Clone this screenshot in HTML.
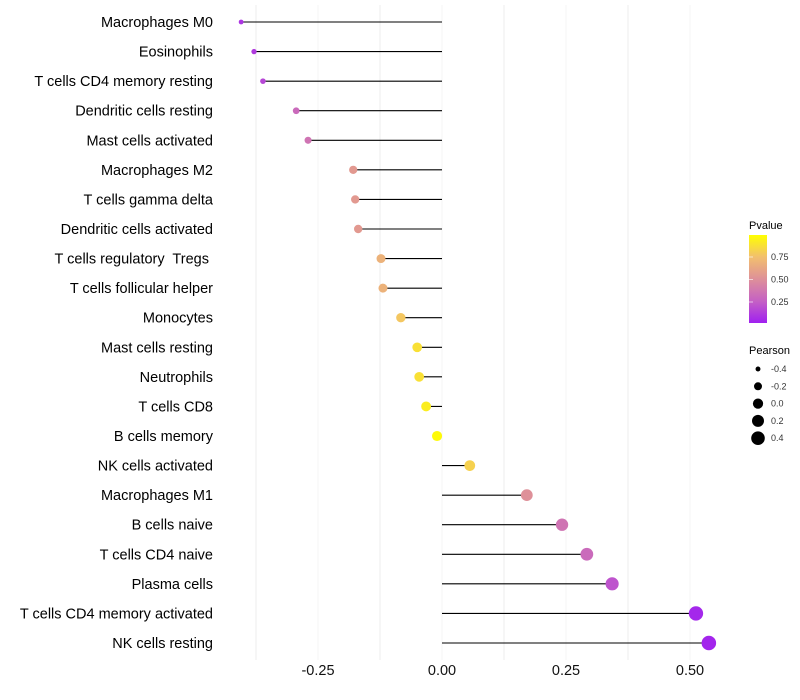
<!DOCTYPE html>
<html><head><meta charset="utf-8"><style>
body{margin:0;background:#fff;font-family:"Liberation Sans",sans-serif}
svg{display:block}
text{white-space:pre}
</style></head><body>
<svg id="c" width="800" height="700">
<defs><linearGradient id="pg" x1="0" y1="1" x2="0" y2="0">
<stop offset="0" stop-color="#a020f0"/><stop offset="0.25" stop-color="#c561c4"/><stop offset="0.5" stop-color="#de9099"/><stop offset="0.75" stop-color="#f2bf6e"/><stop offset="1" stop-color="#ffff00"/></linearGradient></defs>
<g id="grid"></g><g id="marks"></g><g id="labels"></g>
<g id="legend">
<text x="749" y="229" font-size="11">Pvalue</text>
<rect x="749" y="235" width="18" height="88" fill="url(#pg)"/>
<text x="749" y="354" font-size="11">Pearson</text>
</g>
</svg>
<script>
const categories=["Macrophages M0","Eosinophils","T cells CD4 memory resting","Dendritic cells resting","Mast cells activated","Macrophages M2","T cells gamma delta","Dendritic cells activated","T cells regulatory  Tregs ","T cells follicular helper","Monocytes","Mast cells resting","Neutrophils","T cells CD8","B cells memory","NK cells activated","Macrophages M1","B cells naive","T cells CD4 naive","Plasma cells","T cells CD4 memory activated","NK cells resting"];
const pearson=[-0.405,-0.379,-0.361,-0.294,-0.270,-0.179,-0.175,-0.169,-0.123,-0.119,-0.083,-0.050,-0.046,-0.032,-0.010,0.056,0.171,0.242,0.292,0.343,0.512,0.538];
const pvalue=[0.08,0.1,0.15,0.3,0.35,0.55,0.55,0.55,0.68,0.68,0.78,0.88,0.88,0.93,0.98,0.82,0.5,0.35,0.3,0.2,0.03,0.02];
const xTicks=[-0.25,0,0.25,0.5];
const xTickLabels=["-0.25","0.00","0.25","0.50"];
const xMinor=[-0.375,-0.125,0.125,0.375];
const cbTicks=[0.25,0.5,0.75];
const sizeLegend=[-0.4,-0.2,0,0.2,0.4];
const NS="http://www.w3.org/2000/svg";
const X=v=>442+v*496;
const Y=i=>22+i*(621/21);
const R=v=>Math.sqrt(Math.max(1,26+50*v));
const stops=[[0,[160,32,240]],[0.25,[197,97,196]],[0.5,[222,144,153]],[0.75,[242,191,110]],[1,[255,255,0]]];
function col(p){for(let k=0;k<stops.length-1;k++){const a=stops[k],b=stops[k+1];if(p<=b[0]){const t=(p-a[0])/(b[0]-a[0]);return `rgb(${a[1].map((c,j)=>Math.round(c+(b[1][j]-c)*t)).join(",")})`;}}return "rgb(255,255,0)";}
function mk(t,at,p){const e=document.createElementNS(NS,t);for(const k in at)e.setAttribute(k,at[k]);p.appendChild(e);return e;}
const g=document.getElementById("grid"),m=document.getElementById("marks"),L=document.getElementById("labels"),lg=document.getElementById("legend");
xMinor.forEach(v=>{const e=mk("line",{x1:X(v),x2:X(v),y1:5,y2:660,stroke:"#ececec","stroke-width":1},g);

});
xTicks.forEach((v,i)=>{const e=mk("line",{x1:X(v),x2:X(v),y1:5,y2:660,stroke:"#f6f6f6","stroke-width":1},g);


const t=mk("text",{x:X(v),y:675,"font-size":14.5,"text-anchor":"middle",fill:"#111"},L);t.textContent=xTickLabels[i];

});
categories.forEach((c,i)=>{const y=Y(i);
const s=mk("line",{x1:X(0),x2:X(pearson[i]),y1:y,y2:y,stroke:"#000","stroke-width":1.1},m);


const d=mk("circle",{cx:X(pearson[i]),cy:y,r:R(pearson[i]),fill:col(pvalue[i])},m);


const t=mk("text",{x:213,y:y+5,"font-size":14.5,"text-anchor":"end",fill:"#000"},L);t.textContent=c;

});
cbTicks.forEach(v=>{const y=324.5-v*90;
const a=mk("line",{x1:749,x2:753,y1:y,y2:y,stroke:"#fff","stroke-opacity":0.6},lg);


const t=mk("text",{x:771,y:y+3,"font-size":9,fill:"#333"},lg);t.textContent=v.toFixed(2);

});
sizeLegend.forEach((v,i)=>{const y=369+i*17.3;
const c=mk("circle",{cx:758,cy:y,r:R(v),fill:"#000"},lg);


const t=mk("text",{x:771,y:y+3,"font-size":9,fill:"#333"},lg);t.textContent=v.toFixed(1);

});
</script>
</body></html>
